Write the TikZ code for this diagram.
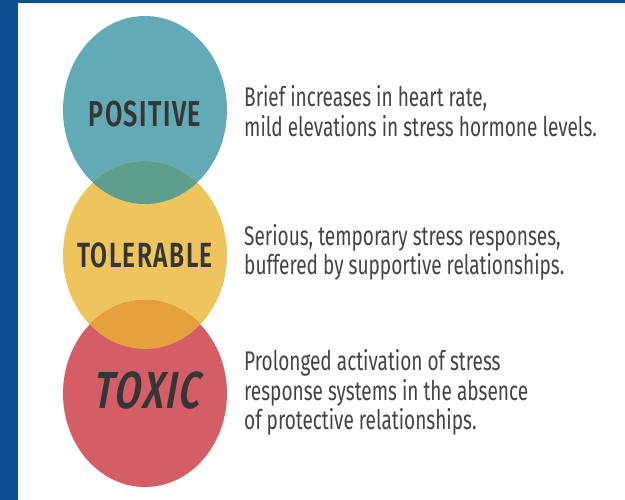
\documentclass[tikz,border=0pt]{standalone}
\usepackage{fontspec}
\setmainfont{Fira Sans}
\newfontfamily\bodyfont[FakeStretch=0.705]{Fira Sans}
\newfontfamily\labelfont[FakeStretch=0.70,LetterSpace=4]{Fira Sans SemiBold}
\newfontfamily\toxicfont[FakeStretch=0.72,FakeSlant=0.18,LetterSpace=4]{Fira Sans SemiBold}
\definecolor{frameblue}{HTML}{0C4E94}
\definecolor{teal}{HTML}{62AAB5}
\definecolor{sunyellow}{HTML}{EEC45C}
\definecolor{rosered}{HTML}{D55D66}
\definecolor{tealmix}{HTML}{5E9E8E}
\definecolor{orangemix}{HTML}{E6A03E}
\definecolor{labelgray}{HTML}{363636}
\definecolor{bodygray}{HTML}{444444}
\tikzset{
  bodyline/.style={anchor=base west, inner sep=0pt, text=bodygray, font=\bodyfont\fontsize{27}{30}\selectfont},
  stresslabel/.style={anchor=center, inner sep=0pt, text=labelgray},
}
\begin{document}
\begin{tikzpicture}[x=1pt,y=-1pt]
\useasboundingbox (0,0) rectangle (625,500);
\fill[white] (0,0) rectangle (625,500);
\fill[frameblue] (0,0) rectangle (18,500);
\fill[frameblue] (0,0) rectangle (625,3.5);
% ellipses
\fill[teal] (145,110) ellipse [x radius=82pt, y radius=94pt];
\fill[sunyellow] (145,255) ellipse [x radius=82pt, y radius=94pt];
\fill[rosered] (145,393.5) ellipse [x radius=82pt, y radius=93.5pt];
\begin{scope}
  \clip (145,110) ellipse [x radius=82pt, y radius=94pt];
  \fill[tealmix] (145,255) ellipse [x radius=82pt, y radius=94pt];
\end{scope}
\begin{scope}
  \clip (145,255) ellipse [x radius=82pt, y radius=94pt];
  \fill[orangemix] (145,393.5) ellipse [x radius=82pt, y radius=93.5pt];
\end{scope}
% labels
\node[stresslabel, font=\labelfont\fontsize{36}{36}\selectfont] (positive) at (145,114) {POSITIVE};
\node[stresslabel, font=\labelfont\fontsize{35}{35}\selectfont] (tolerable) at (145,255) {TOLERABLE};
\node[stresslabel, font=\toxicfont\fontsize{52}{52}\selectfont] (toxic) at (146,391) {TOXIC};
% descriptions
\node[bodyline] (p1) at (244,107) {Brief increases in heart rate,};
\node[bodyline] (p2) at (244,137) {mild elevations in stress hormone levels.};
\node[bodyline] (t1) at (244,245.5) {Serious, temporary stress responses,};
\node[bodyline] (t2) at (244,275) {buffered by supportive relationships.};
\node[bodyline] (x1) at (244,370.5) {Prolonged activation of stress};
\node[bodyline] (x2) at (244,400) {response systems in the absence};
\node[bodyline] (x3) at (244,429) {of protective relationships.};
\end{tikzpicture}
\end{document}
